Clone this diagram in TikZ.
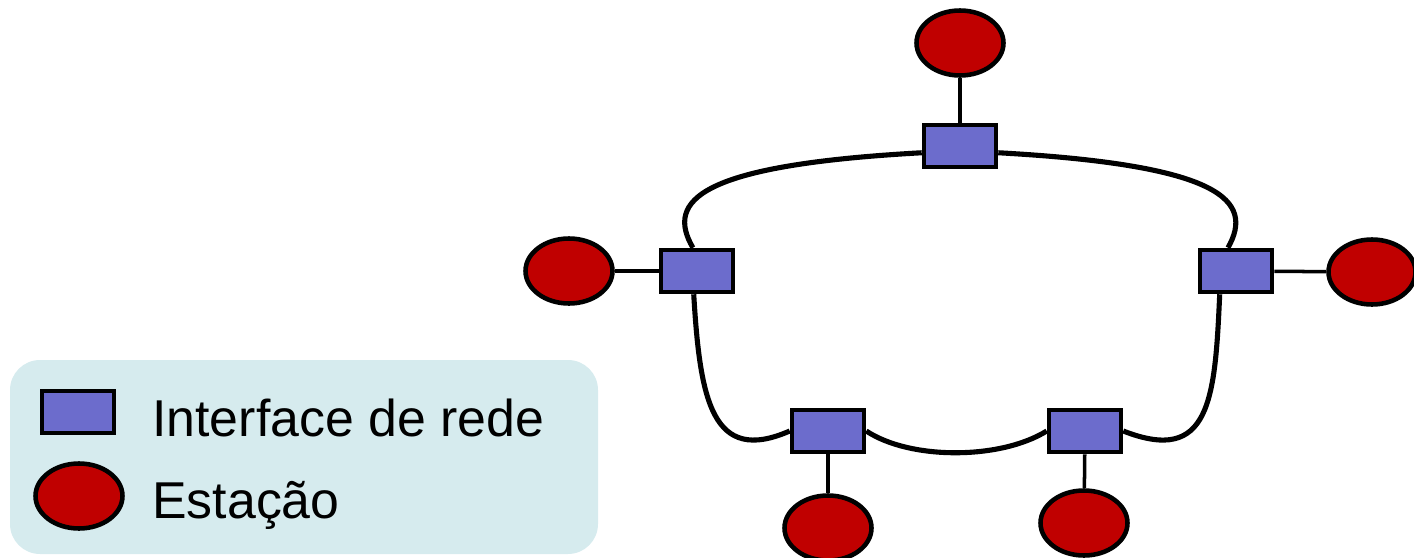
\documentclass[tikz,border=0pt]{standalone}
\usepackage{fontspec}
\setmainfont{Liberation Sans}
\usetikzlibrary{shapes.geometric}
\definecolor{NicBlue}{RGB}{108,108,204}
\definecolor{StaRed}{RGB}{192,0,0}
\definecolor{LegendBg}{RGB}{214,235,238}

\begin{document}
\begin{tikzpicture}[x=0.02cm,y=-0.02cm,
    nic/.style={draw,line width=2.6pt,fill=NicBlue,minimum width=1.44cm,minimum height=0.84cm,inner sep=0pt},
    sta/.style={draw,line width=2.6pt,fill=StaRed,ellipse,minimum width=1.74cm,minimum height=1.30cm,inner sep=0pt},
    ring/.style={line width=2.9pt},
    stub/.style={line width=2pt},
    lbl/.style={font=\fontsize{29.5}{35}\selectfont,anchor=base west,inner sep=0pt}]
      \useasboundingbox (0,0) rectangle (1414,558);
      % legend
      \fill[LegendBg,rounded corners=0.6cm] (10,360) rectangle (598,554);
      \node[nic] (lgnic) at (78,412) {};
      \node[sta] (lgsta) at (79,496) {};
      \node[lbl] (lgnictxt) at (152,436) {Interface de rede};
      \node[lbl] (lgstatxt) at (152,518) {Estação};
      % ring of interfaces
      \node[nic] (tnic) at (960,146) {};
      \node[nic] (lnic) at (697,271) {};
      \node[nic] (rnic) at (1236,271) {};
      \node[nic] (blnic) at (828,431) {};
      \node[nic] (brnic) at (1085,431) {};
      % stations
      \node[sta] (tsta) at (960,43) {};
      \node[sta] (lsta) at (569,271) {};
      \node[sta] (rsta) at (1372,272) {};
      \node[sta] (blsta) at (828,528) {};
      \node[sta] (brsta) at (1084,523) {};
      % cable
      \draw[ring] (tnic.190) .. controls (700,165) and (665,200) .. (lnic.100);
      \draw[ring] (tnic.-10) .. controls (1220,165) and (1255,200) .. (rnic.109);
      \draw[ring] (lnic.262) .. controls (700,400) and (712,465) .. (blnic.west);
      \draw[ring] (blnic.east) .. controls (910,460) and (1000,460) .. (brnic.west);
      \draw[ring] (brnic.east) .. controls (1210,465) and (1215,400) .. (rnic.235);
      % stubs
      \draw[stub] (tsta) -- (tnic);
      \draw[stub] (lsta) -- (lnic);
      \draw[stub] (rnic) -- (rsta);
      \draw[stub] (blnic) -- (blsta);
      \draw[stub] (brnic) -- (brsta);
    \end{tikzpicture}
\end{document}
